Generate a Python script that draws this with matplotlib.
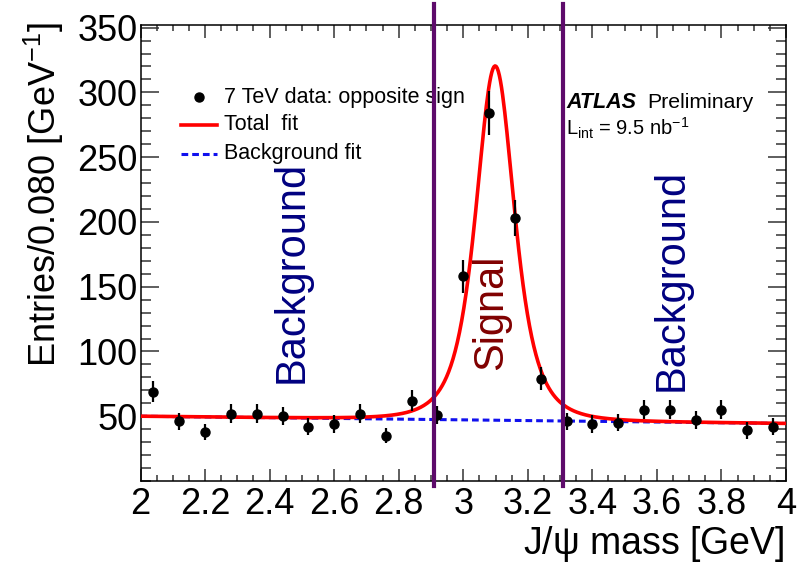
import numpy as np
import matplotlib.pyplot as plt
from matplotlib.ticker import MultipleLocator

plt.rcParams['font.family'] = ['Liberation Sans', 'DejaVu Sans']
plt.rcParams['mathtext.fontset'] = 'custom'
plt.rcParams['mathtext.rm'] = 'Liberation Sans'
plt.rcParams['mathtext.it'] = 'Liberation Sans:italic'
plt.rcParams['mathtext.bf'] = 'Liberation Sans:bold'

# bin centres (0.080 GeV bins) and counts
mass = [2.04, 2.12, 2.20, 2.28, 2.36, 2.44, 2.52, 2.60, 2.68, 2.76, 2.84, 2.92,
        3.00, 3.08, 3.16, 3.24, 3.32, 3.40, 3.48, 3.56, 3.64, 3.72, 3.80, 3.88, 3.96]
entries = [69, 46, 38, 52, 52, 50, 42, 44, 52, 35, 62, 51,
           158, 284, 203, 79, 46, 44, 45, 55, 55, 47, 55, 39, 42]
errors = [8.3, 6.8, 6.2, 7.2, 7.2, 7.1, 6.5, 6.6, 7.2, 5.9, 7.9, 7.1,
          12.6, 16.9, 14.2, 8.9, 6.8, 6.6, 6.7, 7.4, 7.4, 6.9, 7.4, 6.2, 6.5]

# fit parameters (linear background + peak)
bkg_at_2 = 50.0
bkg_slope = -2.8
peak_amp = 273.5
peak_mass = 3.099
peak_width = 0.11

# signal window
window = [2.91, 3.31]


def background(x):
    return bkg_at_2 + bkg_slope * (x - 2.0)


def total(x):
    return background(x) + peak_amp / (1 + ((x - peak_mass) / peak_width) ** 2) ** 2


fig = plt.figure(figsize=(8.1, 5.63), dpi=100)
ax = fig.add_axes([140.5 / 810, 1 - 481 / 563, (786 - 140.5) / 810, (481 - 25) / 563])

xs = np.linspace(2, 4, 600)
ax.plot(xs, background(xs), color='#1010ee', lw=2.2, ls=(0, (2.2, 1.3)), zorder=2)
ax.plot(xs, total(xs), color='#ff0000', lw=2.6, zorder=3)
ax.errorbar(mass, entries, yerr=errors, fmt='o', color='black', ms=6.5,
            elinewidth=1.6, capsize=0, zorder=4)

for w in window:
    ax.axvline(w, ymin=-0.012, ymax=1.045, color='#5e0b6b', lw=3.0,
               clip_on=False, zorder=5)

ax.set_xlim(2, 4)
ax.set_ylim(0, 352)
ax.xaxis.set_major_locator(MultipleLocator(0.2))
ax.xaxis.set_minor_locator(MultipleLocator(0.05))
ax.yaxis.set_major_locator(MultipleLocator(50))
ax.yaxis.set_minor_locator(MultipleLocator(10))
ax.set_xticks(np.arange(2, 4.01, 0.2))
ax.set_xticklabels(['2', '2.2', '2.4', '2.6', '2.8', '3', '3.2', '3.4', '3.6', '3.8', '4'])
ax.set_yticks([50, 100, 150, 200, 250, 300, 350])

ax.tick_params(axis='both', which='both', direction='in', top=True, right=True,
               labelsize=26, width=1.1, color='#333333')
ax.tick_params(axis='x', which='major', length=9, pad=4)
ax.tick_params(axis='x', which='minor', length=4.5)
ax.tick_params(axis='y', which='major', length=13, pad=2)
ax.tick_params(axis='y', which='minor', length=7)
for s in ax.spines.values():
    s.set_linewidth(1.1)

fig.text(785 / 810, 1 - 554 / 563, r'J/$\mathrm{\psi}$ mass [GeV]', fontsize=27,
         ha='right', va='baseline')
fig.text(44 / 810, 1 - 22 / 563, r'Entries/0.080 [GeV$^{\mathrm{-1}}$]', fontsize=26,
         rotation=90, ha='center', va='top')

# region labels
ax.text(2.469, 161, 'Background', color='#000080', fontsize=30, rotation=90,
        ha='center', va='center')
ax.text(3.086, 130, 'Signal', color='#800000', fontsize=30, rotation=90,
        ha='center', va='center')
ax.text(3.647, 155, 'Background', color='#000080', fontsize=30, rotation=90,
        ha='center', va='center')

# legend drawn by hand, ROOT style
def fx(px):
    return (px - 140.5) / (786 - 140.5)


def fy(py):
    return (481 - py) / (481 - 25)


ax.plot([fx(199)], [fy(97)], 'o', color='black', ms=6.5, transform=ax.transAxes, clip_on=False)
ax.plot([fx(181), fx(217)], [fy(125)] * 2, color='#ff0000', lw=2.6, transform=ax.transAxes)
ax.plot([fx(181), fx(217)], [fy(154)] * 2, color='#1010ee', lw=2.2, ls=(0, (2.2, 1.3)),
        transform=ax.transAxes)
legend_labels = ['7 TeV data: opposite sign', 'Total  fit', 'Background fit']
for lab, py in zip(legend_labels, [97, 125, 154]):
    ax.text(fx(224), fy(py), lab, fontsize=15.5, ha='left', va='center', transform=ax.transAxes)

ax.text(fx(566), fy(103), 'ATLAS', fontsize=15.5, fontweight='bold', style='italic',
        ha='left', va='center', transform=ax.transAxes)
ax.text(fx(647), fy(103), 'Preliminary', fontsize=15.3, ha='left', va='center',
        transform=ax.transAxes)
ax.text(fx(566), fy(128), r'L$_{\mathrm{int}}$ = 9.5 nb$^{\mathrm{-1}}$', fontsize=14.5,
        ha='left', va='center', transform=ax.transAxes)

fig.savefig('out.png', dpi=100)
